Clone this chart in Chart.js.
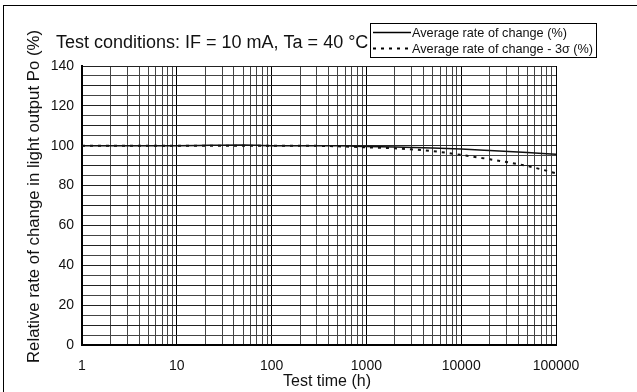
<!DOCTYPE html>
<html>
<head>
<meta charset="utf-8">
<script src="https://cdn.jsdelivr.net/npm/chart.js@4"></script>
<style>
	body { margin: 0; background: #fff; }
	#wrap { position: relative; width: 637px; height: 392px; }
	#frame { position: absolute; left: 3px; top: 5px; right: -5px; bottom: -5px; border-left: 1px solid #000; border-top: 1px solid #000; }
	canvas { position: absolute; left: 0; top: 0; }
</style>
</head>
<body>
<div id="wrap">
	<div id="frame"></div>
	<canvas id="chart" width="637" height="392"></canvas>
</div>
<script>
const testTimes = [1, 10, 50, 100, 200, 500, 1000, 2000, 5000, 10000, 20000, 50000, 100000];
const averageChange = [100, 100, 100.4, 100, 100, 100, 99.6, 99.3, 98.8, 98.3, 97.6, 96.6, 95.7];
const minus3Sigma = [100, 100, 100, 100, 100, 99.7, 99.2, 98.7, 97.3, 95.4, 93.2, 89.8, 86.2];
const seriesNames = ['Average rate of change (%)', 'Average rate of change - 3\u03c3 (%)'];
const xLabels = [1, 10, 100, 1000, 10000, 100000];
const yLabels = [0, 20, 40, 60, 80, 100, 120, 140];
const titleText = 'Test conditions: IF = 10 mA, Ta = 40 \u00b0C';
const xTitle = 'Test time (h)';
const yTitle = 'Relative rate of change in light output Po (%)';

const FONT = '"Liberation Sans", Arial, sans-serif';

function toPoints(values) {
	return values.map((v, i) => ({ x: testTimes[i], y: v }));
}

function isDecade(v) {
	return xLabels.includes(v);
}

// title, boxed legend and axis titles drawn on the canvas
const headerPlugin = {
	id: 'header',
	afterDraw(chart) {
		const ctx = chart.ctx;
		ctx.save();
		ctx.fillStyle = '#111';
		ctx.font = '18px ' + FONT;
		ctx.textBaseline = 'alphabetic';
		ctx.fillText(titleText, 56, 48);

		ctx.strokeStyle = '#000';
		ctx.lineWidth = 1;
		ctx.strokeRect(370.5, 23.5, 226, 34);

		ctx.font = '12.7px ' + FONT;
		ctx.textBaseline = 'middle';
		chart.data.datasets.forEach((ds, i) => {
			const y = 32.5 + i * 16;
			ctx.beginPath();
			ctx.setLineDash(ds.borderDash || []);
			ctx.lineWidth = ds.borderWidth;
			ctx.moveTo(373, y);
			ctx.lineTo(411, y);
			ctx.stroke();
			ctx.setLineDash([]);
			ctx.fillText(ds.label, 412, y + 0.5);
		});

		ctx.font = '16px ' + FONT;
		ctx.textAlign = 'center';
		ctx.fillText(xTitle, 327, 382);

		ctx.font = '16.8px ' + FONT;
		ctx.translate(34.5, 196.5);
		ctx.rotate(-Math.PI / 2);
		ctx.fillText(yTitle, 0, 0);
		ctx.restore();
	}
};

new Chart(document.getElementById('chart').getContext('2d'), {
	type: 'line',
	data: {
		datasets: [{
			label: seriesNames[0],
			data: toPoints(averageChange),
			borderColor: '#111',
			borderWidth: 1.5,
			pointRadius: 0,
			cubicInterpolationMode: 'monotone'
		}, {
			label: seriesNames[1],
			data: toPoints(minus3Sigma),
			borderColor: '#111',
			borderWidth: 2,
			borderDash: [3, 5],
			pointRadius: 0,
			cubicInterpolationMode: 'monotone'
		}]
	},
	options: {
		responsive: false,
		animation: false,
		layout: { padding: { left: 0, right: 81, top: 66, bottom: 0 } },
		plugins: {
			legend: { display: false },
			tooltip: { enabled: false }
		},
		scales: {
			x: {
				type: 'logarithmic',
				min: 1,
				max: 100000,
				afterBuildTicks: scale => {
					const ticks = [];
					for (let e = 0; e < 5; e++) {
						for (let s = 1; s < 10; s++) ticks.push({ value: s * Math.pow(10, e) });
					}
					ticks.push({ value: 100000 });
					scale.ticks = ticks;
				},
				afterFit: scale => { scale.height = 47; },
				border: { color: '#000', width: 2 },
				grid: {
					drawTicks: false,
					color: c => isDecade(c.tick && c.tick.value) ? '#000' : '#444',
					lineWidth: 1
				},
				ticks: {
					autoSkip: false,
					maxRotation: 0,
					padding: 13,
					color: '#111',
					font: { family: FONT, size: 14 },
					callback: v => isDecade(v) ? String(v) : ''
				}
			},
			y: {
				min: 0,
				max: 140,
				afterFit: scale => { scale.width = 82; },
				border: { color: '#000', width: 2 },
				grid: {
					drawTicks: false,
					color: c => c.tick && c.tick.value % 10 === 0 ? '#222' : '#444',
					lineWidth: 1
				},
				ticks: {
					stepSize: 5,
					autoSkip: false,
					padding: 8,
					color: '#111',
					font: { family: FONT, size: 14 },
					callback: v => yLabels.includes(v) ? String(v) : ''
				}
			}
		}
	},
	plugins: [headerPlugin]
});
</script>
</body>
</html>
